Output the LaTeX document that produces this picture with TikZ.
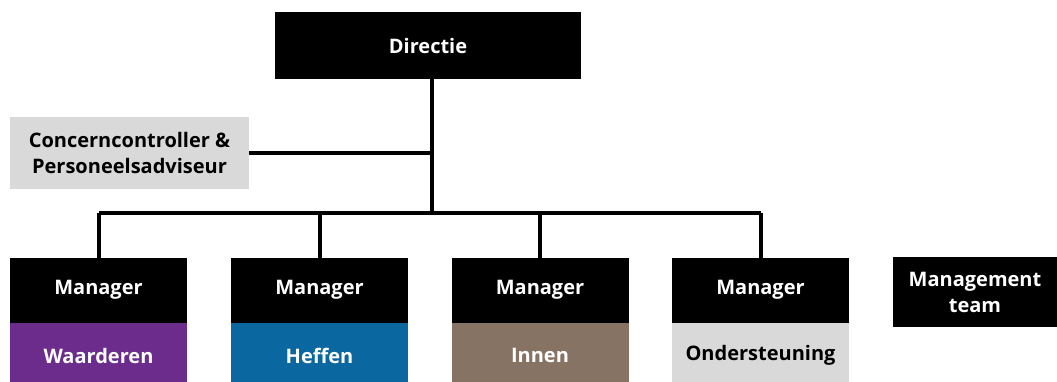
\documentclass[tikz,border=0pt]{standalone}
\usepackage{fontspec}
\setmainfont{Open Sans}
\definecolor{cpurple}{HTML}{6B2C8C}
\definecolor{cblue}{HTML}{0B67A0}
\definecolor{cbrown}{HTML}{867364}
\definecolor{cgrey}{HTML}{D9D9D9}
\begin{document}
\begin{tikzpicture}[x=1pt,y=-1pt,
  box/.style={rectangle,inner sep=0pt,outer sep=0pt,align=center,font=\fontsize{20}{26}\selectfont\bfseries},
  blackbox/.style={box,fill=black,text=white},
  mgr/.style={blackbox,minimum width=177pt,minimum height=65pt},
  dept/.style={box,minimum width=177pt,minimum height=66pt},
  conn/.style={line width=4pt,black}]
\useasboundingbox (0,0) rectangle (1057,381);
\fill[white] (0,0) rectangle (1057,381);
\node[blackbox,minimum width=306pt,minimum height=67pt] (dir) at (428,45.5) {Directie};
\node[box,fill=cgrey,text=black,minimum width=239pt,minimum height=72pt] (cc) at (129.5,153) {Concerncontroller \&\\Personeelsadviseur};
\node[mgr] (m1) at (98.5,290) {Manager};
\node[mgr] (m2) at (319.5,290) {Manager};
\node[mgr] (m3) at (540,290) {Manager};
\node[mgr] (m4) at (760.5,290) {Manager};
\node[dept,fill=cpurple,text=white,anchor=north] (d1) at (m1.south) {Waarderen};
\node[dept,fill=cblue,text=white,anchor=north] (d2) at (m2.south) {Heffen};
\node[dept,fill=cbrown,text=white,anchor=north] (d3) at (m3.south) {Innen};
\node[dept,fill=cgrey,text=black,anchor=north] (d4) at (m4.south) {Ondersteuning};
\node[blackbox,minimum width=164pt,minimum height=70pt] (mt) at (975,292) {Management\\team};
\coordinate (j) at (432,213);
\draw[conn] (dir.south -| j) -- (j);
\draw[conn] (cc.east) -- (cc.east -| j);
\draw[conn] (m1.north |- j) -- (m4.north |- j);
\foreach \m in {m1,m2,m3,m4} \draw[conn] (\m.north) -- (\m.north |- j);
\end{tikzpicture}
\end{document}
